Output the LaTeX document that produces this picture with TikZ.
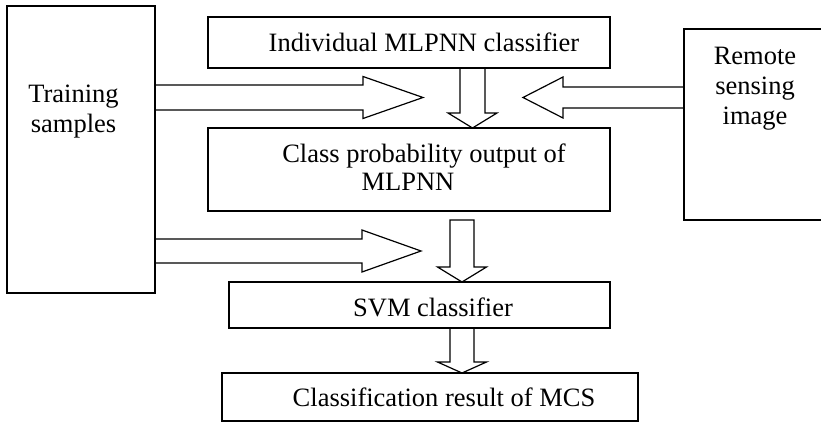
\documentclass[tikz,border=0pt]{standalone}
\usepackage{fontspec}
\setmainfont{Liberation Serif}
\usetikzlibrary{calc}

% Hollow block arrow from #2 to #3: shaft half width #4, head half width #5,
% head length #6; optional #1 closes the tail (e.g. "-- cycle").
\newcommand\blockarrow[6][]{%
  \coordinate (ba-c) at ($(#3)!#6!(#2)$);
  \draw[blockline] ($(#2)!#4!90:(#3)$) -- ($(ba-c)!#4!90:(#3)$)
    -- ($(ba-c)!#5!90:(#3)$) -- (#3) -- ($(ba-c)!#5!-90:(#3)$)
    -- ($(ba-c)!#4!-90:(#3)$) -- ($(#2)!#4!-90:(#3)$) #1;
}

\begin{document}
\begin{tikzpicture}[x=1pt,y=-1pt,
  blockline/.style={line width=1.2pt,line join=miter},
  box/.style={draw,line width=1.2pt,inner sep=0pt,outer sep=0pt},
  lbl/.style={font=\fontsize{26.5}{30}\selectfont,inner sep=0pt,align=center}]
\useasboundingbox (0,0) rectangle (821,422);

% boxes
\node[box,minimum width=148pt,minimum height=287pt] (train) at (81,149.5) {};
\node[box,minimum width=402pt,minimum height=51pt] (indiv) at (409,42.5) {};
\node[box,minimum width=402pt,minimum height=83pt] (cpo) at (409,169.5) {};
\node[box,minimum width=142pt,minimum height=191pt] (remote) at (755,124.5) {};
\node[box,minimum width=381pt,minimum height=46pt] (svm) at (419.5,305) {};
\node[box,minimum width=416pt,minimum height=48pt] (result) at (430,397) {};

% labels
\node[lbl] (trainT) at (73.5,112) {Training\\samples};
\node[lbl,anchor=base] (indivT) at (424,52) {Individual MLPNN classifier};
\node[lbl,font=\fontsize{26.5}{28}\selectfont] (cpoT) at (416,167)
  {\hspace*{16pt}Class probability output of\\MLPNN\hspace*{16pt}};
\node[lbl] (remoteT) at (755,88.5) {Remote\\sensing\\image};
\node[lbl,anchor=base] (svmT) at (433,316) {SVM classifier};
\node[lbl,anchor=base] (resultT) at (444,406.5) {Classification result of MCS};

% arrow end points
\coordinate (tipA) at (423,97.5);
\coordinate (tailA) at (train.east |- tipA);
\coordinate (tipB) at (421,251);
\coordinate (tailB) at (train.east |- tipB);
\coordinate (tipC) at (523,97.5);
\coordinate (tailC) at (remote.west |- tipC);
\path (cpo.north) ++(63.5,0) coordinate (tipD);
\coordinate (tailD) at (indiv.south -| tipD);
\path (svm.north) ++(42.5,0) coordinate (tipE);
\path (cpo.south -| tipE) ++(0,9) coordinate (tailE);
\coordinate (tipF) at (result.north -| tipE);
\coordinate (tailF) at (svm.south -| tipE);

% block arrows
\blockarrow{tailA}{tipA}{12.5pt}{21pt}{60pt}
\blockarrow{tailB}{tipB}{12pt}{21pt}{59pt}
\blockarrow{tailC}{tipC}{10.5pt}{20.5pt}{40pt}
\blockarrow{tailD}{tipD}{12.5pt}{24.5pt}{15pt}
\blockarrow[-- cycle]{tailE}{tipE}{12pt}{24.5pt}{15pt}
\blockarrow{tailF}{tipF}{12pt}{24.5pt}{11pt}
\end{tikzpicture}
\end{document}
